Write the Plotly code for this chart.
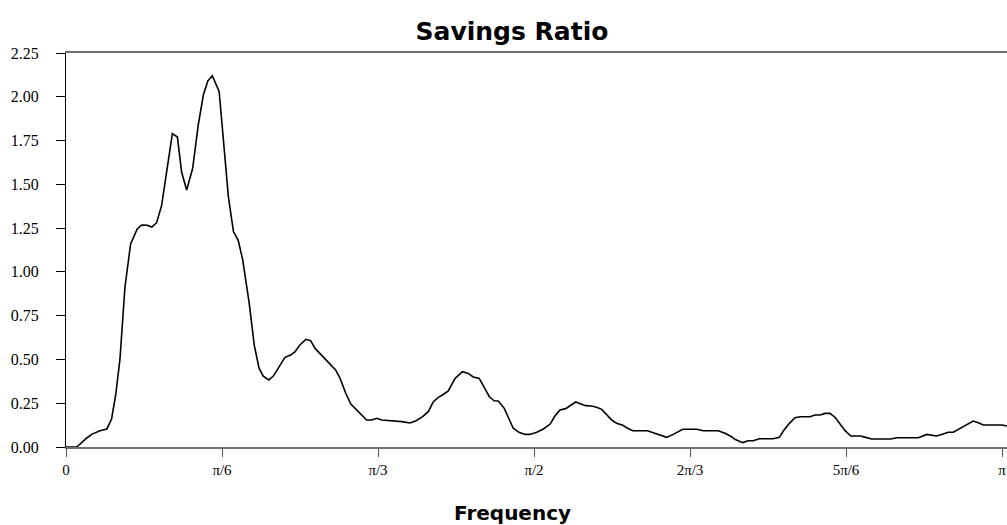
import math
import plotly.graph_objects as go

# Frequency (radians) and spectral density values
freq = [0.000, 0.036, 0.069, 0.086, 0.114, 0.137, 0.153, 0.167, 0.181, 0.198,
        0.217, 0.239, 0.254, 0.273, 0.288, 0.304, 0.321, 0.340, 0.357, 0.374,
        0.388, 0.405, 0.425, 0.444, 0.461, 0.476, 0.491, 0.514, 0.528, 0.545,
        0.562, 0.578, 0.593, 0.615, 0.632, 0.648, 0.662, 0.681, 0.696, 0.715,
        0.735, 0.754, 0.769, 0.785, 0.805, 0.821, 0.836, 0.855, 0.880, 0.905,
        0.920, 0.939, 0.956, 0.976, 0.992, 1.009, 1.026, 1.043, 1.060, 1.076,
        1.097, 1.127, 1.155, 1.175, 1.197, 1.216, 1.233, 1.250, 1.266, 1.283,
        1.306, 1.331, 1.350, 1.367, 1.387, 1.403, 1.421, 1.437, 1.451, 1.471,
        1.485, 1.501, 1.520, 1.541, 1.557, 1.580, 1.602, 1.625, 1.641, 1.658,
        1.677, 1.694, 1.711, 1.728, 1.744, 1.764, 1.781, 1.798, 1.815, 1.832,
        1.848, 1.869, 1.885, 1.902, 1.927, 1.951, 1.971, 1.994, 2.016, 2.038,
        2.055, 2.070, 2.089, 2.117, 2.139, 2.164, 2.189, 2.212, 2.234, 2.245,
        2.271, 2.290, 2.307, 2.327, 2.352, 2.374, 2.394, 2.410, 2.428, 2.447,
        2.464, 2.480, 2.497, 2.514, 2.531, 2.547, 2.564, 2.581, 2.598, 2.615,
        2.634, 2.648, 2.667, 2.684, 2.704, 2.726, 2.749, 2.768, 2.788, 2.810,
        2.839, 2.861, 2.889, 2.906, 2.922, 2.939, 2.961, 2.978, 3.001, 3.023,
        3.045, 3.062, 3.079, 3.101, 3.124, 3.142, 3.158]

density = [0.000, 0.000, 0.050, 0.072, 0.093, 0.103, 0.160, 0.300, 0.500, 0.915,
           1.160, 1.245, 1.268, 1.266, 1.256, 1.280, 1.380, 1.600, 1.790, 1.770,
           1.570, 1.468, 1.590, 1.840, 2.010, 2.090, 2.120, 2.030, 1.750, 1.430,
           1.230, 1.180, 1.070, 0.820, 0.580, 0.450, 0.405, 0.383, 0.405, 0.459,
           0.512, 0.525, 0.544, 0.583, 0.615, 0.607, 0.563, 0.529, 0.487, 0.440,
           0.392, 0.307, 0.245, 0.211, 0.183, 0.154, 0.154, 0.164, 0.154, 0.152,
           0.147, 0.145, 0.137, 0.150, 0.173, 0.202, 0.259, 0.283, 0.300, 0.320,
           0.392, 0.430, 0.420, 0.400, 0.392, 0.344, 0.287, 0.264, 0.263, 0.221,
           0.164, 0.107, 0.084, 0.072, 0.072, 0.084, 0.103, 0.131, 0.177, 0.211,
           0.219, 0.238, 0.257, 0.246, 0.236, 0.234, 0.227, 0.215, 0.183, 0.154,
           0.135, 0.124, 0.107, 0.093, 0.093, 0.093, 0.082, 0.069, 0.055, 0.072,
           0.087, 0.101, 0.101, 0.101, 0.093, 0.093, 0.093, 0.078, 0.059, 0.044,
           0.025, 0.036, 0.036, 0.047, 0.047, 0.047, 0.055, 0.097, 0.135, 0.167,
           0.173, 0.173, 0.173, 0.183, 0.183, 0.192, 0.192, 0.170, 0.130, 0.093,
           0.063, 0.063, 0.063, 0.055, 0.046, 0.046, 0.046, 0.046, 0.053, 0.053,
           0.053, 0.053, 0.072, 0.067, 0.063, 0.072, 0.084, 0.084, 0.107, 0.130,
           0.148, 0.139, 0.126, 0.126, 0.126, 0.126, 0.120]

x_tick_vals = [0, math.pi / 6, math.pi / 3, math.pi / 2, 2 * math.pi / 3, 5 * math.pi / 6, math.pi]
x_tick_text = ["0", "π/6", "π/3", "π/2", "2π/3", "5π/6", "π"]
y_tick_vals = [0, 0.25, 0.5, 0.75, 1.0, 1.25, 1.5, 1.75, 2.0, 2.25]
y_tick_text = ["0.00", "0.25", "0.50", "0.75", "1.00", "1.25", "1.50", "1.75", "2.00", "2.25"]

title_text = "Savings Ratio"
x_title = "Frequency"

fig = go.Figure()
fig.add_trace(go.Scatter(x=freq, y=density, mode="lines",
                         line=dict(color="black", width=1.6), hoverinfo="skip",
                         showlegend=False))

serif = "Liberation Serif, Times New Roman, serif"

fig.update_layout(
    width=1007, height=525,
    margin=dict(l=66, r=0, t=53, b=78),
    paper_bgcolor="white", plot_bgcolor="white",
    title=dict(text=title_text, x=512 / 1007, xref="container", xanchor="center",
               y=1 - 31 / 525, yref="container", yanchor="middle",
               font=dict(family="DejaVu Sans", size=25, color="black", weight="bold")),
    xaxis=dict(range=[0, math.pi * 941 / 936], tickmode="array",
               tickvals=x_tick_vals, ticktext=x_tick_text,
               showgrid=False, zeroline=False,
               showline=True, linecolor="#6e6e6e", linewidth=2, mirror=True,
               ticks="outside", ticklen=8, tickcolor="#555555", tickwidth=1,
               tickfont=dict(family=serif, size=15, color="black")),
    yaxis=dict(range=[0, 2.25], tickmode="array",
               tickvals=y_tick_vals, ticktext=y_tick_text,
               showgrid=False, zeroline=False,
               showline=True, linecolor="black", linewidth=1,
               ticks="outside", ticklen=9, tickcolor="black", tickwidth=1,
               ticklabelstandoff=14,
               tickfont=dict(family=serif, size=16, color="black")),
    annotations=[dict(text=x_title, xref="paper", yref="paper",
                      x=(512 - 66) / 941, y=-(513 - 447) / 394, xanchor="center", yanchor="middle",
                      showarrow=False,
                      font=dict(family="DejaVu Sans", size=20, color="black", weight="bold"))],
)

fig.write_html("out.html", config={"displayModeBar": False},
               post_script="document.body.style.margin='0';document.body.style.overflow='hidden';")
